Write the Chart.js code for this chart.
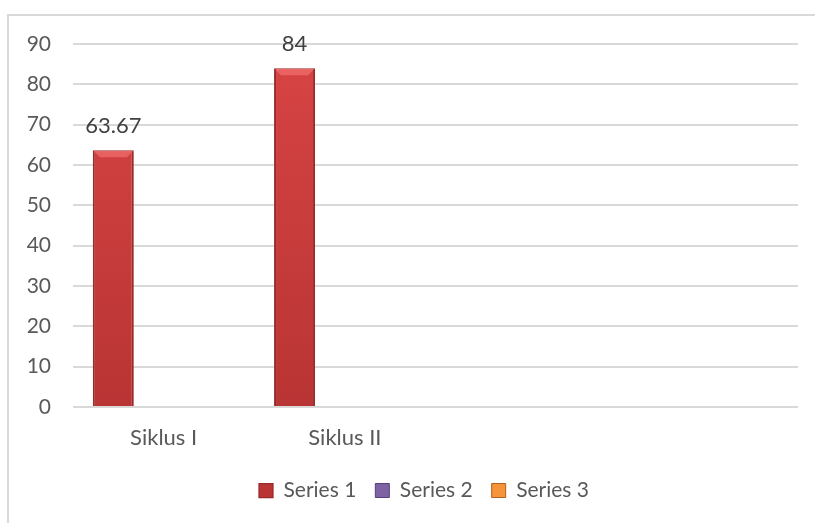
<!DOCTYPE html>
<html>
<head>
<meta charset="utf-8">
<script src="https://cdn.jsdelivr.net/npm/chart.js@4"></script>
<style>
  html, body { margin: 0; padding: 0; background: #fff; }
  #wrap { width: 815px; height: 523px; }
</style>
</head>
<body>
<div id="wrap"><canvas id="myChart"></canvas></div>
<script>
const ctx = document.getElementById('myChart');

const categories = ['Siklus I', 'Siklus II', '', ''];
const series1 = [63.67, 84, null, null];
const series2 = [null, null, null, null];
const series3 = [null, null, null, null];
const yTicks = [0, 10, 20, 30, 40, 50, 60, 70, 80, 90];

const textGray = '#595959';

// red column fill, lighter at the top
const redFill = (context) => {
  const area = context.chart.chartArea;
  if (!area) return '#C83A3A';
  const g = context.chart.ctx.createLinearGradient(0, area.top, 0, area.bottom);
  g.addColorStop(0, '#D84444');
  g.addColorStop(1, '#B93434');
  return g;
};

// frame round the whole chart
const frame = {
  id: 'frame',
  beforeDraw(chart) {
    const c = chart.ctx;
    c.save();
    c.fillStyle = '#fff';
    c.fillRect(0, 0, chart.width, chart.height);
    c.strokeStyle = '#D9D9D9';
    c.lineWidth = 2;
    c.strokeRect(8, 15, chart.width + 10, chart.height + 10);
    c.restore();
  }
};

// bevel at the top of each column + value labels
const barExtras = {
  id: 'barExtras',
  afterDatasetsDraw(chart) {
    const c = chart.ctx;
    const meta = chart.getDatasetMeta(0);
    c.save();
    meta.data.forEach((bar, i) => {
      const v = series1[i];
      if (v === null) return;
      const half = bar.width / 2;
      c.fillStyle = 'rgba(240,110,110,0.75)';
      c.beginPath();
      c.moveTo(bar.x - half + 1, bar.y + 1);
      c.lineTo(bar.x + half - 1, bar.y + 1);
      c.lineTo(bar.x + half - 7, bar.y + 7);
      c.lineTo(bar.x - half + 7, bar.y + 7);
      c.closePath();
      c.fill();
      c.fillStyle = '#404040';
      c.font = '22px Lato';
      c.textAlign = 'center';
      c.textBaseline = 'alphabetic';
      c.fillText(String(v), bar.x, bar.y - 17);
    });
    c.restore();
  }
};

// nudge the legend right of centre
const legendShift = {
  id: 'legendShift',
  afterLayout(chart) {
    chart.legend.left += 25;
    chart.legend.right += 25;
  }
};

new Chart(ctx, {
  type: 'bar',
  data: {
    labels: categories,
    datasets: [
      {
        label: 'Series 1',
        data: series1,
        backgroundColor: redFill,
        borderColor: '#9A2A2A',
        borderWidth: { left: 2, right: 2, top: 1, bottom: 0 },
        borderSkipped: false
      },
      {
        label: 'Series 2',
        data: series2,
        backgroundColor: '#7E62A4',
        borderColor: '#55407A',
        borderWidth: 1
      },
      {
        label: 'Series 3',
        data: series3,
        backgroundColor: '#F59438',
        borderColor: '#B0601C',
        borderWidth: 1
      }
    ]
  },
  options: {
    responsive: true,
    maintainAspectRatio: false,
    animation: false,
    categoryPercentage: 0.833,
    barPercentage: 0.815,
    layout: { padding: { left: 0, right: 17, top: 44, bottom: 12 } },
    plugins: {
      tooltip: { enabled: false },
      legend: {
        position: 'bottom',
        labels: {
          color: textGray,
          font: { family: 'Lato', size: 21 },
          boxWidth: 14,
          boxHeight: 14,
          padding: 19
        }
      }
    },
    scales: {
      x: {
        grid: { display: false, drawTicks: false },
        border: { display: false },
        ticks: {
          color: textGray,
          font: { family: 'Lato', size: 22 },
          padding: 18,
          maxRotation: 0
        },
        afterFit: (scale) => { scale.height = 54; }
      },
      y: {
        min: 0,
        max: 90,
        afterBuildTicks: (scale) => { scale.ticks = yTicks.map(v => ({ value: v })); },
        grid: { color: '#D9D9D9', lineWidth: 2, drawTicks: false },
        border: { display: false },
        ticks: {
          color: textGray,
          font: { family: 'Lato', size: 21 },
          padding: 22
        },
        afterFit: (scale) => { scale.width = 73; }
      }
    }
  },
  plugins: [frame, barExtras, legendShift]
});
</script>
</body>
</html>
